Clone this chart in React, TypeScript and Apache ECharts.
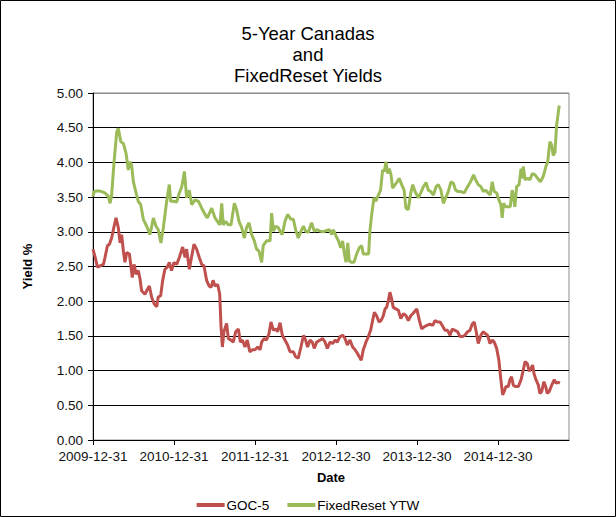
import React, { useEffect, useRef } from "react";
import * as echarts from "echarts";

const titleLines = ["5-Year Canadas", "and", "FixedReset Yields"];
const startDateUTC = Date.UTC(2009, 11, 31);
const xTickDays = [0, 365, 730, 1095, 1460, 1825];
const yTicks = [0, 0.5, 1, 1.5, 2, 2.5, 3, 3.5, 4, 4.5, 5];

const gocDays = [0, 10, 20, 32, 47, 54, 65, 74, 84, 95, 104, 114, 122, 129, 137, 144, 152, 164, 170, 177, 185, 194, 204, 212, 219, 234, 242, 254, 264, 276, 287, 294, 305, 314, 324, 335, 344, 354, 365, 377, 389, 404, 415, 422, 434, 445, 455, 467, 479, 490, 500, 512, 523, 532, 541, 550, 562, 571, 577, 583, 590, 602, 610, 622, 632, 643, 655, 664, 673, 685, 695, 707, 718, 730, 742, 753, 760, 771, 782, 793, 802, 813, 823, 832, 843, 853, 865, 877, 888, 903, 913, 925, 937, 949, 958, 967, 978, 988, 997, 1008, 1018, 1035, 1046, 1056, 1068, 1080, 1091, 1101, 1113, 1125, 1136, 1146, 1158, 1170, 1181, 1191, 1200, 1209, 1218, 1230, 1241, 1251, 1260, 1268, 1278, 1289, 1298, 1308, 1316, 1323, 1331, 1338, 1346, 1353, 1365, 1376, 1387, 1399, 1411, 1421, 1432, 1444, 1459, 1471, 1481, 1492, 1504, 1519, 1531, 1541, 1553, 1564, 1574, 1586, 1598, 1609, 1619, 1631, 1643, 1654, 1664, 1676, 1688, 1699, 1709, 1718, 1727, 1736, 1748, 1759, 1769, 1778, 1789, 1799, 1808, 1819, 1829, 1838, 1846, 1853, 1861, 1871, 1879, 1886, 1894, 1904, 1917, 1929, 1939, 1947, 1957, 1966, 1974, 1981, 1987, 1996, 2007, 2014, 2022, 2032, 2040, 2047, 2056, 2067, 2079, 2086, 2097, 2104];
const gocValues = [2.75, 2.63, 2.49, 2.51, 2.53, 2.63, 2.8, 2.82, 2.91, 3.08, 3.2, 3.06, 2.84, 2.96, 2.72, 2.56, 2.7, 2.68, 2.53, 2.34, 2.53, 2.39, 2.44, 2.32, 2.15, 2.1, 2.15, 2.22, 2.06, 1.96, 1.92, 2.06, 2.08, 2.3, 2.46, 2.49, 2.56, 2.44, 2.56, 2.53, 2.63, 2.78, 2.63, 2.75, 2.46, 2.65, 2.82, 2.75, 2.63, 2.53, 2.51, 2.3, 2.22, 2.2, 2.3, 2.22, 2.24, 2.1, 1.63, 1.34, 1.56, 1.68, 1.46, 1.44, 1.41, 1.56, 1.6, 1.41, 1.44, 1.34, 1.44, 1.27, 1.3, 1.3, 1.34, 1.3, 1.41, 1.46, 1.44, 1.53, 1.7, 1.58, 1.6, 1.56, 1.69, 1.51, 1.44, 1.37, 1.27, 1.27, 1.2, 1.18, 1.34, 1.51, 1.44, 1.34, 1.44, 1.41, 1.32, 1.41, 1.43, 1.46, 1.41, 1.32, 1.41, 1.39, 1.44, 1.41, 1.49, 1.51, 1.46, 1.37, 1.44, 1.34, 1.3, 1.25, 1.2, 1.15, 1.3, 1.41, 1.49, 1.58, 1.72, 1.84, 1.79, 1.7, 1.72, 1.79, 1.89, 1.91, 2.01, 2.13, 2.03, 1.91, 1.89, 1.87, 1.75, 1.82, 1.79, 1.72, 1.79, 1.83, 1.89, 1.72, 1.6, 1.63, 1.65, 1.67, 1.65, 1.72, 1.7, 1.7, 1.65, 1.58, 1.58, 1.51, 1.6, 1.58, 1.56, 1.49, 1.49, 1.51, 1.56, 1.58, 1.67, 1.7, 1.56, 1.39, 1.51, 1.56, 1.53, 1.51, 1.39, 1.44, 1.41, 1.32, 1.15, 0.87, 0.65, 0.7, 0.77, 0.77, 0.87, 0.91, 0.79, 0.77, 0.77, 0.87, 1.01, 1.13, 1.1, 0.99, 1.03, 1.08, 0.96, 0.87, 0.79, 0.67, 0.7, 0.84, 0.77, 0.67, 0.7, 0.79, 0.87, 0.82, 0.83, 0.82];

const frDays = [0, 5, 24, 39, 54, 69, 77, 84, 95, 107, 114, 125, 137, 149, 159, 167, 174, 182, 194, 204, 215, 227, 242, 257, 272, 284, 294, 306, 317, 332, 344, 350, 362, 377, 389, 400, 412, 422, 434, 445, 460, 475, 490, 505, 515, 535, 550, 565, 572, 580, 587, 598, 610, 622, 637, 647, 658, 670, 682, 692, 703, 715, 727, 737, 748, 760, 767, 782, 798, 805, 813, 823, 835, 843, 853, 865, 877, 892, 903, 913, 925, 937, 948, 958, 970, 985, 997, 1008, 1023, 1038, 1053, 1065, 1076, 1083, 1095, 1106, 1116, 1125, 1131, 1140, 1148, 1155, 1166, 1176, 1188, 1200, 1211, 1218, 1233, 1242, 1248, 1256, 1266, 1275, 1286, 1296, 1305, 1313, 1320, 1328, 1335, 1343, 1350, 1361, 1371, 1380, 1391, 1402, 1410, 1421, 1432, 1441, 1451, 1466, 1477, 1489, 1501, 1511, 1522, 1534, 1546, 1556, 1568, 1579, 1589, 1601, 1613, 1624, 1634, 1646, 1658, 1673, 1684, 1694, 1706, 1715, 1724, 1736, 1748, 1759, 1769, 1781, 1790, 1799, 1808, 1819, 1829, 1838, 1844, 1850, 1859, 1871, 1880, 1889, 1895, 1901, 1909, 1920, 1929, 1935, 1939, 1947, 1959, 1969, 1980, 1992, 2004, 2016, 2029, 2041, 2049, 2059, 2067, 2074, 2082, 2089, 2101];
const frValues = [3.51, 3.58, 3.59, 3.58, 3.56, 3.51, 3.41, 3.53, 4.01, 4.44, 4.49, 4.3, 4.27, 4.13, 3.89, 4.01, 3.96, 3.72, 3.56, 3.44, 3.39, 3.18, 3.08, 2.96, 3.2, 3.08, 3.03, 2.84, 3.06, 3.44, 3.68, 3.44, 3.44, 3.43, 3.56, 3.65, 3.87, 3.49, 3.6, 3.39, 3.46, 3.44, 3.34, 3.25, 3.2, 3.34, 3.2, 3.13, 3.1, 3.41, 3.1, 3.15, 3.1, 3.1, 3.41, 3.32, 3.15, 3.06, 2.91, 3.06, 3.13, 2.96, 2.87, 2.75, 2.72, 2.56, 2.8, 2.87, 2.87, 3.27, 3.01, 3.08, 3.06, 3.01, 2.96, 3.15, 3.25, 3.18, 3.18, 3.03, 2.91, 3.01, 3.08, 3.01, 2.99, 3.13, 3.01, 3.03, 3.01, 3.0, 3.02, 3.03, 2.96, 3.03, 2.94, 2.87, 2.77, 2.87, 2.72, 2.56, 2.84, 2.58, 2.56, 2.56, 2.68, 2.77, 2.8, 2.68, 2.68, 2.68, 3.01, 3.25, 3.49, 3.44, 3.53, 3.6, 3.89, 3.87, 4.01, 3.84, 3.91, 3.82, 3.63, 3.68, 3.72, 3.77, 3.68, 3.6, 3.34, 3.32, 3.56, 3.68, 3.58, 3.49, 3.56, 3.65, 3.71, 3.6, 3.58, 3.53, 3.65, 3.68, 3.6, 3.41, 3.49, 3.58, 3.72, 3.7, 3.6, 3.58, 3.58, 3.56, 3.63, 3.68, 3.75, 3.82, 3.75, 3.68, 3.65, 3.58, 3.6, 3.56, 3.53, 3.72, 3.58, 3.56, 3.46, 3.39, 3.2, 3.41, 3.36, 3.36, 3.36, 3.6, 3.51, 3.36, 3.65, 3.68, 3.91, 3.77, 3.94, 3.75, 3.77, 3.75, 3.84, 3.82, 3.77, 3.72, 3.8, 3.94, 4.01, 4.3, 4.25, 4.1, 4.15, 4.53, 4.82];

const FONT = "'Liberation Sans', Arial, sans-serif";

function dayLabel(d: number): string {
  const dt = new Date(startDateUTC + Math.round(d) * 86400000);
  const y = dt.getUTCFullYear();
  const m = String(dt.getUTCMonth() + 1).padStart(2, "0");
  const day = String(dt.getUTCDate()).padStart(2, "0");
  return `${y}-${m}-${day}`;
}

export default function App() {
  const ref = useRef<HTMLDivElement>(null);
  useEffect(() => {
    document.body.style.margin = "0";
    if (!ref.current) return;
    const chart = echarts.init(ref.current, undefined, { renderer: "svg" });
    const splitColors = yTicks.map((_, i) => (i === yTicks.length - 1 ? "#8c8c8c" : "#000000"));
    chart.setOption({
      animation: false,
      backgroundColor: "#ffffff",
      textStyle: { fontFamily: FONT },
      title: {
        text: titleLines.join("\n"),
        left: "center",
        top: 18,
        textStyle: { fontFamily: FONT, fontSize: 18.5, fontWeight: "normal", color: "#000", lineHeight: 21 },
      },
      graphic: [
        {
          type: "rect",
          shape: { x: 0.5, y: 0.5, width: 615, height: 516 },
          style: { fill: "none", stroke: "#000", lineWidth: 1 },
          silent: true,
        },
      ],
      legend: {
        left: "center",
        top: 493,
        icon: "rect",
        itemWidth: 28,
        itemHeight: 4,
        itemGap: 18,
        textStyle: { fontFamily: FONT, fontSize: 13.5, color: "#000", padding: [0, 0, 0, -3] },
        data: ["GOC-5", "FixedReset YTW"],
      },
      grid: {
        left: 93,
        right: 47,
        top: 93,
        bottom: 77,
        show: true,
        borderColor: "#8c8c8c",
        borderWidth: 1,
        backgroundColor: "transparent",
      },
      xAxis: {
        type: "value",
        min: 0,
        max: 2145,
        name: "Date",
        nameLocation: "middle",
        nameGap: 31,
        nameTextStyle: { fontFamily: FONT, fontSize: 13, fontWeight: "bold", color: "#000" },
        axisLine: { show: true, lineStyle: { color: "#000", width: 1 } },
        axisTick: { show: true, length: 5, lineStyle: { color: "#000" }, customValues: xTickDays },
        axisLabel: {
          customValues: xTickDays,
          formatter: (v: number) => dayLabel(v),
          fontFamily: FONT,
          fontSize: 13.5,
          color: "#111",
          margin: 9,
        },
        splitLine: { show: false },
      },
      yAxis: {
        type: "value",
        min: 0,
        max: 5,
        interval: 0.5,
        name: "Yield %",
        nameLocation: "middle",
        nameGap: 59,
        nameTextStyle: { fontFamily: FONT, fontSize: 13, fontWeight: "bold", color: "#000" },
        axisLine: { show: true, lineStyle: { color: "#000", width: 1 } },
        axisTick: { show: true, length: 5, lineStyle: { color: "#000" } },
        axisLabel: {
          formatter: (v: number) => v.toFixed(2),
          fontFamily: FONT,
          fontSize: 13.5,
          color: "#111",
          margin: 10,
        },
        splitLine: { show: true, lineStyle: { color: splitColors, width: 1 } },
      },
      series: [
        {
          name: "GOC-5",
          type: "line",
          showSymbol: false,
          symbol: "none",
          data: gocDays.map((d, i) => [d, gocValues[i]]),
          lineStyle: { color: "#C0504D", width: 3 },
          itemStyle: { color: "#C0504D" },
          z: 3,
        },
        {
          name: "FixedReset YTW",
          type: "line",
          showSymbol: false,
          symbol: "none",
          data: frDays.map((d, i) => [d, frValues[i]]),
          lineStyle: { color: "#9BBB59", width: 3 },
          itemStyle: { color: "#9BBB59" },
          z: 3,
        },
      ],
    });
    return () => chart.dispose();
  }, []);
  return <div ref={ref} style={{ width: 616, height: 517 }} />;
}
